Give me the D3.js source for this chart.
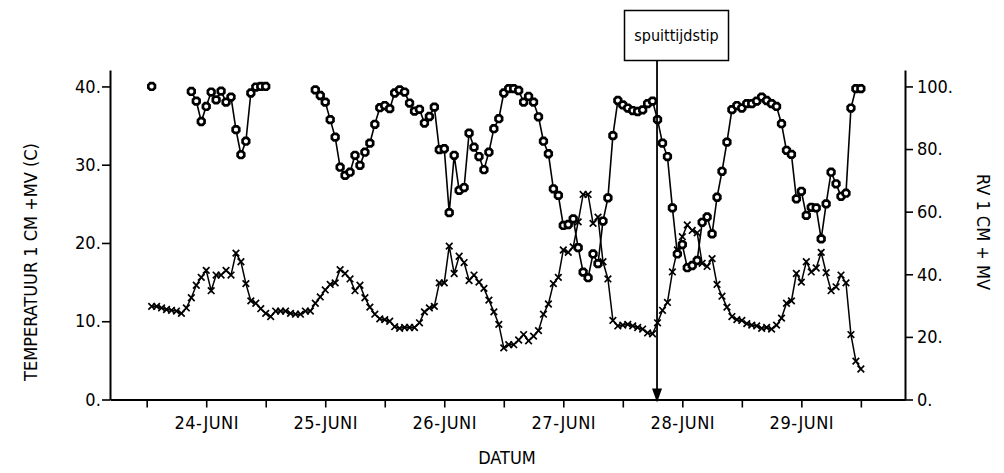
<!DOCTYPE html>
<html>
<head>
<meta charset="utf-8">
<script src="https://cdn.jsdelivr.net/npm/d3@7"></script>
<style>
  html, body { margin: 0; padding: 0; background: #fff; }
  svg { display: block; }
  .plot text { font-family: "DejaVu Sans Condensed", "DejaVu Sans", sans-serif; fill: #000; }
</style>
</head>
<body>
<svg id="chart" width="1004" height="473"></svg>
<script>
// Hourly observations, 24 June 01:00 (hour 1) to 30 June 00:00 (hour 144)
const hours = d3.range(1, 145);

// Temperature at 1 cm above the ground (C), left axis
const temperature = [
  11.9, 11.9, 11.7, 11.5, 11.4, 11.3, 11.0, 11.7, 13.0, 14.6, 15.6, 16.5,
  13.9, 15.9, 15.9, 16.5, 15.9, 18.7, 17.6, 14.8, 12.6, 12.3, 11.6, 11.0,
  10.6, 11.3, 11.3, 11.3, 11.0, 10.9, 10.9, 11.3, 11.3, 12.3, 13.1, 14.0,
  14.7, 14.9, 16.6, 16.1, 15.4, 13.9, 14.6, 13.0, 11.8, 10.9, 10.3, 10.2,
  10.0, 9.3, 9.1, 9.2, 9.2, 9.2, 9.8, 11.2, 11.7, 11.9, 14.9, 14.9,
  19.6, 16.1, 18.3, 17.5, 15.2, 15.9, 15.0, 14.2, 12.7, 11.2, 9.6, 6.6,
  7.0, 7.0, 7.6, 8.3, 7.5, 8.1, 8.8, 10.9, 12.2, 14.8, 15.6, 19.1,
  18.8, 19.5, 22.7, 26.2, 26.2, 22.5, 23.3, 17.6, 15.4, 10.1, 9.4, 9.5,
  9.6, 9.4, 9.2, 9.0, 8.5, 8.4, 9.8, 11.4, 12.4, 16.3, 19.1, 20.8,
  22.3, 21.6, 21.3, 17.4, 17.0, 18.0, 14.7, 13.2, 11.8, 10.6, 10.2, 10.1,
  9.7, 9.5, 9.4, 9.1, 9.2, 9.0, 9.5, 10.4, 12.3, 12.6, 16.1, 15.0,
  17.6, 16.3, 16.8, 18.8, 16.2, 13.9, 14.4, 15.9, 14.9, 8.3, 4.9, 3.9
];

// Relative humidity at 1 cm above the ground (%), right axis; null = no reading
const humidity = [
  100, null, null, null, null, null, null, null, 98.4, 95.3, 88.8, 93.6,
  98.2, 95.7, 98.5, 95.0, 96.6, 86.2, 78.2, 82.5, 97.9, 99.8, 100, 100,
  null, null, null, null, null, null, null, null, null, 98.9, 97.1, 95.0,
  89.4, 83.8, 74.2, 71.6, 72.6, 78.0, 74.8, 79.0, 81.9, 87.9, 93.2, 93.9,
  92.9, 97.9, 98.9, 98.2, 94.7, 92.1, 92.7, 88.3, 90.4, 93.4, 79.8, 80.1,
  59.7, 78.0, 66.8, 67.7, 85.1, 80.6, 77.6, 73.4, 79.0, 86.5, 89.7, 97.9,
  99.3, 99.3, 98.7, 95.0, 96.8, 95.0, 90.3, 82.5, 78.5, 67.3, 65.2, 55.6,
  55.9, 57.7, 48.5, 40.7, 38.9, 46.5, 43.4, 57.0, 64.4, 84.3, 95.5, 94.1,
  93.1, 92.3, 92.0, 92.5, 94.5, 95.3, 89.4, 81.9, 77.6, 61.2, 46.5, 49.5,
  42.1, 42.8, 44.4, 56.6, 58.3, 52.9, 64.6, 72.9, 82.2, 92.6, 93.9, 93.1,
  94.5, 94.5, 95.3, 96.6, 95.5, 94.5, 93.6, 88.1, 79.6, 78.3, 64.1, 66.5,
  58.8, 61.4, 61.2, 51.3, 62.5, 72.6, 68.9, 64.9, 65.9, 93.1, 99.3, 99.3
];

// Axis ticks
const timeTicks = d3.range(0, 145, 12);
const dayTicks = [12, 36, 60, 84, 108, 132];
const dayLabels = ["24-JUNI", "25-JUNI", "26-JUNI", "27-JUNI", "28-JUNI", "29-JUNI"];
const tempTicks = [0, 10, 20, 30, 40];
const rvTicks = [0, 20, 40, 60, 80, 100];

// Moment of spraying (hour), and its label
const sprayHour = [102.9];
const sprayLabel = ["spuittijdstip"];

const svg = d3.select("#chart");
const g = svg.append("g").attr("class", "plot");

const x = d3.scaleLinear().domain([-7.4, 152.9]).range([110, 905]);
const yT = d3.scaleLinear().domain([0, 42.1]).range([399.5, 70]);
const yR = d3.scaleLinear().domain([0, 105.25]).range([399.5, 70]);

const fmt = d => d + ".";

// Axes
const xAxis = g.append("g").attr("transform", `translate(0,${yT(0)})`)
  .call(d3.axisBottom(x).tickValues(timeTicks).tickSize(8).tickSizeOuter(0)
    .tickFormat(d => { const i = dayTicks.indexOf(d); return i >= 0 ? dayLabels[i] : ""; }));
const yAxisL = g.append("g").attr("transform", `translate(${x.range()[0]},0)`)
  .call(d3.axisLeft(yT).tickValues(tempTicks).tickSize(8).tickSizeOuter(0).tickFormat(fmt));
const yAxisR = g.append("g").attr("transform", `translate(${x.range()[1]},0)`)
  .call(d3.axisRight(yR).tickValues(rvTicks).tickSize(8).tickSizeOuter(0).tickFormat(fmt));

[xAxis, yAxisL, yAxisR].forEach(a => {
  a.selectAll("path.domain").attr("stroke", "#000").attr("stroke-width", 2);
  a.selectAll(".tick line").attr("stroke", "#000").attr("stroke-width", 1.6);
  a.selectAll(".tick text").attr("font-size", 18)
    .attr("font-family", '"DejaVu Sans Condensed", "DejaVu Sans", sans-serif').attr("fill", "#000");
});
xAxis.selectAll(".tick text").attr("dy", "1.05em").attr("letter-spacing", 0.5);
yAxisL.selectAll(".tick text").attr("dx", "0.1em");
yAxisR.selectAll(".tick text").attr("dx", "0.05em");

// Axis titles
g.append("text").attr("transform", "translate(32,262) rotate(-90)")
  .attr("text-anchor", "middle").attr("dominant-baseline", "middle")
  .attr("font-size", 18).text("TEMPERATUUR 1 CM +MV (C)");
g.append("text").attr("transform", "translate(982,232) rotate(90)")
  .attr("text-anchor", "middle").attr("dominant-baseline", "middle")
  .attr("font-size", 18).text("RV 1 CM + MV");
g.append("text").attr("x", 507).attr("y", 464)
  .attr("text-anchor", "middle").attr("font-size", 18).text("DATUM");

// Series
const tData = hours.map((h, i) => ({ h, v: temperature[i] }));
const rData = hours.map((h, i) => ({ h, v: humidity[i] }));

const tLine = d3.line().x(d => x(d.h)).y(d => yT(d.v));
const rLine = d3.line().defined(d => d.v != null).x(d => x(d.h)).y(d => yR(d.v));

g.append("path").datum(tData).attr("d", tLine)
  .attr("fill", "none").attr("stroke", "#000").attr("stroke-width", 1.5);
g.append("path").datum(rData).attr("d", rLine)
  .attr("fill", "none").attr("stroke", "#000").attr("stroke-width", 1.6);

// Temperature markers: crosses
const cs = 3.3;
g.append("g").selectAll("path").data(tData).join("path")
  .attr("transform", d => `translate(${x(d.h)},${yT(d.v)})`)
  .attr("d", `M${-cs},${-cs}L${cs},${cs}M${-cs},${cs}L${cs},${-cs}`)
  .attr("stroke", "#000").attr("stroke-width", 1.7).attr("fill", "none");

// Humidity markers: small open octagons with a heavy outline
const oct = (() => {
  const r = 3.3, a = r * 0.45;
  return `M${-a},${-r}L${a},${-r}L${r},${-a}L${r},${a}L${a},${r}L${-a},${r}L${-r},${a}L${-r},${-a}Z`;
})();
g.append("g").selectAll("path").data(rData.filter(d => d.v != null)).join("path")
  .attr("transform", d => `translate(${x(d.h)},${yR(d.v)})`)
  .attr("d", oct)
  .attr("stroke", "#000").attr("stroke-width", 2.7).attr("fill", "#fff");

// Spraying marker: labelled box with arrow down to the time axis
const sx = x(sprayHour[0]);
const box = { x0: 624.5, x1: 728.5, y0: 10.5, y1: 60.5 };
g.append("rect").attr("x", box.x0).attr("y", box.y0)
  .attr("width", box.x1 - box.x0).attr("height", box.y1 - box.y0)
  .attr("fill", "#fff").attr("stroke", "#000").attr("stroke-width", 1.5);
g.append("text").attr("x", (box.x0 + box.x1) / 2).attr("y", 41)
  .attr("text-anchor", "middle").attr("font-size", 16)
  .attr("font-family", '"Liberation Sans", Arial, sans-serif')
  .text(sprayLabel[0]);
g.append("line").attr("x1", sx).attr("x2", sx).attr("y1", box.y1).attr("y2", yT(0) - 8)
  .attr("stroke", "#000").attr("stroke-width", 1.8);
g.append("path")
  .attr("d", `M${sx - 5},${yT(0) - 11}L${sx + 5},${yT(0) - 11}L${sx},${yT(0) + 3}Z`)
  .attr("fill", "#000");
</script>
</body>
</html>
